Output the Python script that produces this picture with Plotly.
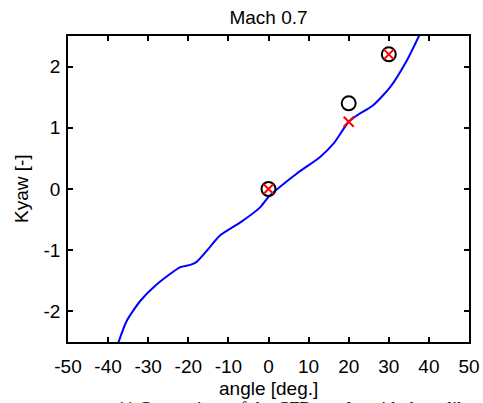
import plotly.graph_objects as go

# curve
curve_angle = [-37.5, -35.4, -32.0, -27.9, -22.1, -19.5, -17.9, -15.4, -12.1, -7.1, -2.1,
               0.0, 7.0, 12.8, 16.2, 19.9, 22.0, 26.1, 30.3, 34.5, 37.6]
curve_kyaw = [-2.52, -2.16, -1.83, -1.56, -1.28, -1.24, -1.19, -1.01, -0.76, -0.55, -0.30,
              -0.13, 0.25, 0.52, 0.74, 1.09, 1.20, 1.37, 1.66, 2.10, 2.51]

circle_angle = [0, 20, 30]
circle_kyaw = [0.0, 1.4, 2.2]
cross_angle = [0, 20, 30]
cross_kyaw = [0.0, 1.1, 2.2]

x_ticks = [-50, -40, -30, -20, -10, 0, 10, 20, 30, 40, 50]
y_ticks = [-2, -1, 0, 1, 2]

title_text = "Mach 0.7"
x_title = "angle [deg.]"
y_title = "Kyaw [-]"
caption = "11 Comparison of the CFD results with the calibration"

FONT = "Liberation Sans, Arial, sans-serif"
L, R, T, B = 68, 14, 36, 61
W, H = 483, 403
plot_h = H - T - B
plot_w = W - L - R


def px_x(p):
    return (p - L) / plot_w


def px_y(p):
    return (H - B - p) / plot_h


fig = go.Figure()
fig.add_trace(go.Scatter(x=curve_angle, y=curve_kyaw, mode="lines",
                         line=dict(color="#0000ff", width=2, shape="spline", smoothing=0.6),
                         showlegend=False))
fig.add_trace(go.Scatter(x=circle_angle, y=circle_kyaw, mode="markers",
                         marker=dict(symbol="circle-open", size=14, color="black",
                                     line=dict(width=2, color="black")),
                         showlegend=False))
fig.add_trace(go.Scatter(x=cross_angle, y=cross_kyaw, mode="markers",
                         marker=dict(symbol="x-thin", size=10, color="red",
                                     line=dict(width=2, color="red")),
                         showlegend=False))

axis_common = dict(showline=True, linecolor="black", linewidth=1.5, mirror="ticks",
                   ticks="inside", ticklen=5, tickwidth=1.5, tickcolor="black",
                   showgrid=False, zeroline=False, automargin=False,
                   tickfont=dict(family=FONT, size=19, color="black"))

fig.update_layout(
    width=W, height=H,
    margin=dict(l=L, r=R, t=T, b=B),
    paper_bgcolor="white", plot_bgcolor="white",
    title=dict(text=title_text, x=(L + plot_w / 2) / W, xanchor="center",
               y=1 - 17 / H, yanchor="middle",
               font=dict(family=FONT, size=19, color="black")),
    xaxis=dict(range=[-50, 50], tickvals=x_ticks, ticktext=[str(v) for v in x_ticks],
               ticklabelstandoff=6, **axis_common),
    yaxis=dict(range=[-2.5, 2.5], tickvals=y_ticks, ticktext=[str(v) for v in y_ticks],
               ticklabelstandoff=2, **axis_common),
    annotations=[
        dict(text=x_title, xref="paper", yref="paper", x=0.5, y=px_y(388),
             xanchor="center", yanchor="middle", showarrow=False,
             font=dict(family=FONT, size=19, color="black")),
        dict(text=y_title, xref="paper", yref="paper", x=px_x(21), y=0.5,
             xanchor="center", yanchor="middle", showarrow=False, textangle=-90,
             font=dict(family=FONT, size=19, color="black")),
        dict(text=caption, xref="paper", yref="paper",
             x=px_x(115), y=px_y(397),
             xanchor="left", yanchor="top", showarrow=False,
             font=dict(family="Liberation Serif, Times New Roman, serif",
                       size=18, color="black")),
    ],
)

fig.write_html("out.html", config={"displayModeBar": False},
               post_script="document.body.style.margin='0';document.body.style.overflow='hidden';")
